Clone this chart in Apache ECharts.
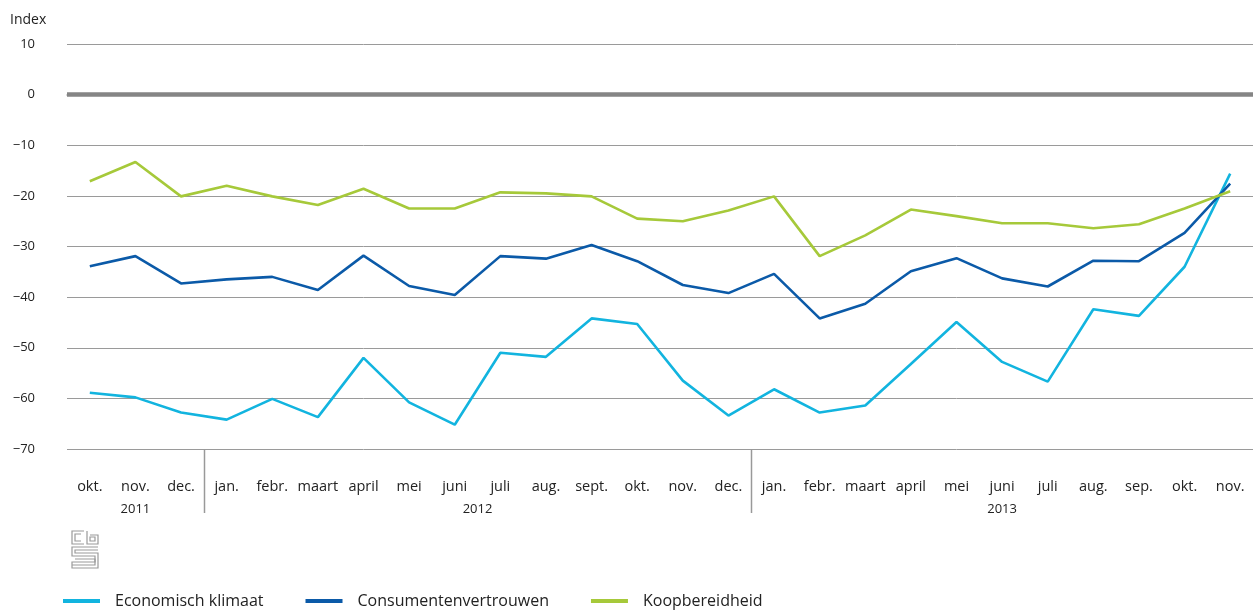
<!DOCTYPE html>
<html><head><meta charset="utf-8">
<script src="https://cdn.jsdelivr.net/npm/echarts@6/dist/echarts.min.js"></script>
<style>html,body{margin:0;padding:0;background:#fff}#c{width:1253px;height:610px}</style>
</head><body><div id="c"></div>
<script>
const months = ['okt.','nov.','dec.','jan.','febr.','maart','april','mei','juni','juli','aug.','sept.','okt.','nov.','dec.','jan.','febr.','maart','april','mei','juni','juli','aug.','sep.','okt.','nov.'];
const years = [{label:'2011', from:0, to:2},{label:'2012', from:3, to:14},{label:'2013', from:15, to:25}];
const yTicks = [10,0,-10,-20,-30,-40,-50,-60,-70];
const economischKlimaat = [-58.9,-59.8,-62.8,-64.2,-60.1,-63.7,-52.0,-60.8,-65.2,-51.0,-51.8,-44.2,-45.3,-56.5,-63.4,-58.2,-62.8,-61.4,-53.2,-44.9,-52.8,-56.7,-42.4,-43.7,-34.0,-15.6];
const consumentenvertrouwen = [-33.9,-31.9,-37.3,-36.5,-36.0,-38.6,-31.8,-37.8,-39.6,-31.9,-32.4,-29.7,-32.9,-37.6,-39.2,-35.4,-44.2,-41.3,-34.9,-32.3,-36.3,-37.9,-32.8,-32.9,-27.3,-17.6];
const koopbereidheid = [-17.1,-13.3,-20.1,-18.0,-20.1,-21.8,-18.6,-22.5,-22.5,-19.3,-19.5,-20.1,-24.5,-25.0,-22.9,-20.1,-31.9,-27.8,-22.7,-24.0,-25.4,-25.4,-26.4,-25.6,-22.5,-19.1];

const FONT = '"Open Sans", "Noto Sans", sans-serif';
const C1 = '#12b4df', C2 = '#0b5aa8', C3 = '#a6c93a';
const chart = echarts.init(document.getElementById('c'), null, {renderer:'canvas'});
function mk(name, data, color){
  return {name, type:'line', data, symbol:'none', smooth:false,
    lineStyle:{color, width:2.6}, itemStyle:{color}, z:3};
}
const s1 = mk('Economisch klimaat', economischKlimaat, C1);
s1.markLine = {silent:true, symbol:'none', label:{show:false}, z:1,
  lineStyle:{color:'#858585', width:4.5, type:'solid'}, data:[{yAxis:0}]};
chart.setOption({
  animation:false,
  textStyle:{fontFamily:FONT},
  title:{text:'Index', left:10, top:13, padding:0, textStyle:{fontFamily:FONT, fontSize:14, fontWeight:'normal', color:'#222'}},
  grid:{left:67, right:-6, top:44, bottom:161},
  xAxis:{type:'category', data:months, boundaryGap:true,
    axisLine:{lineStyle:{color:'#a8a8a8', width:1.5}},
    axisTick:{alignWithLabel:true, length:10, lineStyle:{color:'#999', width:1.5}},
    axisLabel:{color:'#222', fontSize:14.5, margin:30, interval:0, fontFamily:FONT}},
  yAxis:{type:'value', min:-70, max:10, interval:10,
    axisLine:{show:false}, axisTick:{show:false},
    axisLabel:{color:'#222', fontSize:13, margin:32, fontFamily:FONT, padding:[0,0,13,0],
      formatter:v=>String(v).replace('-','\u2212')},
    splitLine:{lineStyle:{color:'#9a9a9a', width:1}}},
  legend:{left:63, top:593, padding:0, itemWidth:37, itemHeight:4, itemGap:42, icon:'rect',
    textStyle:{fontFamily:FONT, fontSize:16, color:'#222', padding:[0,0,0,10]},
    data:['Economisch klimaat','Consumentenvertrouwen','Koopbereidheid']},
  series:[s1, mk('Consumentenvertrouwen', consumentenvertrouwen, C2), mk('Koopbereidheid', koopbereidheid, C3)]
});

// year labels and separators computed through the axis scale
const px = i => chart.convertToPixel({xAxisIndex:0}, i);
const yAxisPix = chart.convertToPixel({yAxisIndex:0}, -70);
const g = [];
years.forEach((yr, k) => {
  const cx = (px(yr.from) + px(yr.to)) / 2;
  g.push({type:'text', x:cx, y:yAxisPix+54, style:{text:yr.label, fill:'#222', font:'13px '+FONT, textAlign:'center', textVerticalAlign:'top'}});
  if (k > 0) {
    const bx = Math.round((px(yr.from-1) + px(yr.from)) / 2) + 0.5;
    g.push({type:'line', shape:{x1:bx, y1:yAxisPix, x2:bx, y2:yAxisPix+64}, style:{stroke:'#999', lineWidth:1.5}});
  }
});
// cbs logo (approximation)
const lx = 72, ly = 531, st = {stroke:'#9a9a9a', lineWidth:1.2, fill:null};
g.push({type:'polyline', shape:{points:[[lx+12,ly],[lx,ly],[lx,ly+13],[lx+12,ly+13]]}, style:st});
g.push({type:'polyline', shape:{points:[[lx+9,ly+3],[lx+3,ly+3],[lx+3,ly+10],[lx+9,ly+10]]}, style:st});
g.push({type:'polyline', shape:{points:[[lx+15,ly],[lx+15,ly+13],[lx+26,ly+13],[lx+26,ly+4],[lx+18,ly+4]]}, style:st});
g.push({type:'rect', shape:{x:lx+18, y:ly+6, width:5, height:4}, style:st});
g.push({type:'polyline', shape:{points:[[lx+26,ly+16],[lx,ly+16],[lx,ly+25],[lx+23,ly+25],[lx+23,ly+31],[lx,ly+31],[lx,ly+37],[lx+26,ly+37],[lx+26,ly+22],[lx+3,ly+22],[lx+3,ly+19],[lx+26,ly+19]]}, style:st});
g.push({type:'polyline', shape:{points:[[lx,ly+34],[lx+23,ly+34],[lx+23,ly+28],[lx+3,ly+28]]}, style:st});
chart.setOption({graphic:g});
</script></body></html>
